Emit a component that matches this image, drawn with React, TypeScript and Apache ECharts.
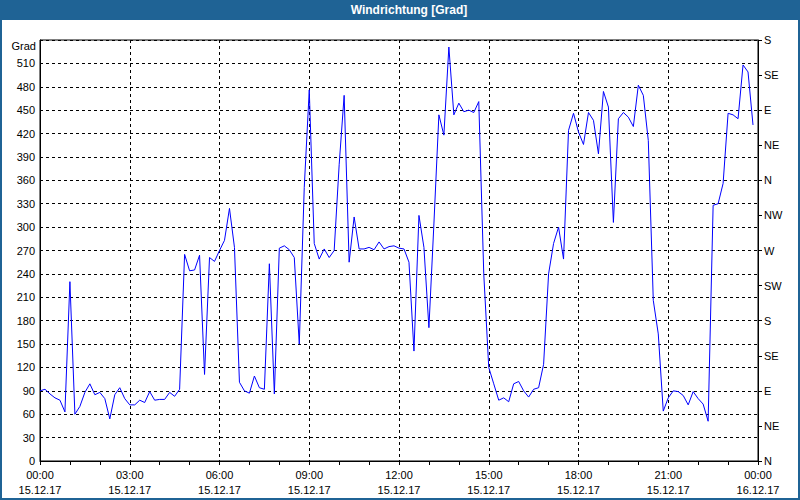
import React, { useEffect, useRef } from "react";
import * as echarts from "echarts";

const TITLE = "Windrichtung [Grad]";
const Y_UNIT = "Grad";
const STEP_MINUTES = 10;
const DAY_START = "15.12.17";
const DAY_END = "16.12.17";
const COMPASS_LABELS = ["N", "NE", "E", "SE", "S", "SW", "W", "NW", "N", "NE", "E", "SE", "S"];
const DIRECTION_VALUES = [
  90, 92, 86, 81, 78, 63, 230, 60, 70, 88, 99, 85, 88, 80, 54, 85, 94, 80, 72, 72,
  78, 75, 89, 78, 79, 79, 88, 83, 92, 265, 244, 245, 264, 111, 261, 256, 270, 283, 324, 274,
  101, 90, 87, 109, 94, 92, 253, 86, 273, 276, 271, 261, 150, 351, 476, 279, 259, 272, 261, 270,
  380, 469, 255, 313, 272, 272, 274, 271, 281, 272, 275, 276, 273, 272, 255, 141, 315, 274, 171, 304,
  444, 418, 531, 444, 459, 448, 450, 447, 461, 240, 120, 99, 78, 81, 76, 99, 102, 90, 82, 92,
  94, 124, 240, 279, 300, 259, 424, 446, 422, 406, 447, 437, 394, 474, 454, 306, 439, 447, 441, 429,
  482, 469, 411, 206, 163, 64, 81, 90, 89, 84, 72, 89, 80, 73, 51, 328, 330, 356, 446, 444,
  439, 508, 499, 431,
];

const FONT = "'Liberation Sans', Arial, sans-serif";

export default function App() {
  const ref = useRef<HTMLDivElement>(null);
  useEffect(() => {
    document.body.style.margin = "0";
    if (!ref.current) return;
    const chart = echarts.init(ref.current, null, { renderer: "svg" });
    const data = DIRECTION_VALUES.map((v, i) => [i * STEP_MINUTES, v]);
    const pad = (n: number) => (n < 10 ? "0" + n : "" + n);
    chart.setOption({
      animation: false,
      backgroundColor: "#ffffff",
      textStyle: { fontFamily: FONT },
      grid: {
        left: 40,
        right: 42,
        top: 40,
        bottom: 39,
        show: true,
        backgroundColor: "#ffffff",
        borderColor: "#000000",
        borderWidth: 1,
      },
      graphic: [
        {
          type: "rect",
          shape: { x: 0, y: 0, width: 800, height: 20 },
          style: { fill: "#1f6395" },
          silent: true,
        },
        {
          type: "rect",
          shape: { x: 1, y: 1, width: 798, height: 498 },
          style: { fill: "none", stroke: "#1f6395", lineWidth: 2 },
          silent: true,
        },
        {
          type: "text",
          x: 409,
          y: 10,
          style: {
            text: TITLE,
            fill: "#ffffff",
            font: "bold 12px " + FONT,
            align: "center",
            verticalAlign: "middle",
          },
        },
        {
          type: "text",
          x: 36,
          y: 46,
          style: {
            text: Y_UNIT,
            fill: "#000000",
            font: "11px " + FONT,
            align: "right",
            verticalAlign: "middle",
          },
        },
      ],
      xAxis: {
        type: "value",
        min: 0,
        max: 1440,
        interval: 180,
        axisLine: { show: true, lineStyle: { color: "#000", width: 1 } },
        axisTick: { show: true, length: 4, lineStyle: { color: "#000" } },
        minorTick: { show: true, splitNumber: 3, length: 4, lineStyle: { color: "#000" } },
        splitLine: { show: true, lineStyle: { color: "#000", type: [3, 3], width: 1 } },
        axisLabel: {
          color: "#000",
          fontSize: 11,
          fontFamily: FONT,
          margin: 6,
          lineHeight: 15,
          formatter: (v: number) => {
            const h = Math.round(v / 60);
            if (h >= 24) return pad(0) + ":00\n" + DAY_END;
            return pad(h) + ":00\n" + DAY_START;
          },
        },
      },
      yAxis: [
        {
          type: "value",
          min: 0,
          max: 540,
          interval: 30,
          axisLine: { show: true, lineStyle: { color: "#000" } },
          axisTick: { show: false },
          splitLine: { show: true, lineStyle: { color: "#000", type: [3, 3], width: 1 } },
          axisLabel: {
            color: "#000",
            fontSize: 11,
            fontFamily: FONT,
            margin: 5,
            formatter: (v: number) => (v >= 540 ? "" : String(v)),
          },
        },
        {
          type: "value",
          position: "right",
          min: 0,
          max: 540,
          interval: 45,
          axisLine: { show: true, lineStyle: { color: "#000" } },
          axisTick: { show: true, length: 4, lineStyle: { color: "#000" } },
          splitLine: { show: false },
          axisLabel: {
            color: "#000",
            fontSize: 11,
            fontFamily: FONT,
            margin: 6,
            formatter: (v: number) => COMPASS_LABELS[Math.round(v / 45)] ?? "",
          },
        },
      ],
      series: [
        {
          type: "line",
          data,
          yAxisIndex: 0,
          showSymbol: false,
          symbol: "none",
          lineStyle: { color: "#0000ff", width: 1 },
          itemStyle: { color: "#0000ff" },
        },
      ],
    });
    return () => chart.dispose();
  }, []);
  return (
    <div
      ref={ref}
      style={{ position: "fixed", left: 0, top: 0, width: 800, height: 500 }}
    />
  );
}
